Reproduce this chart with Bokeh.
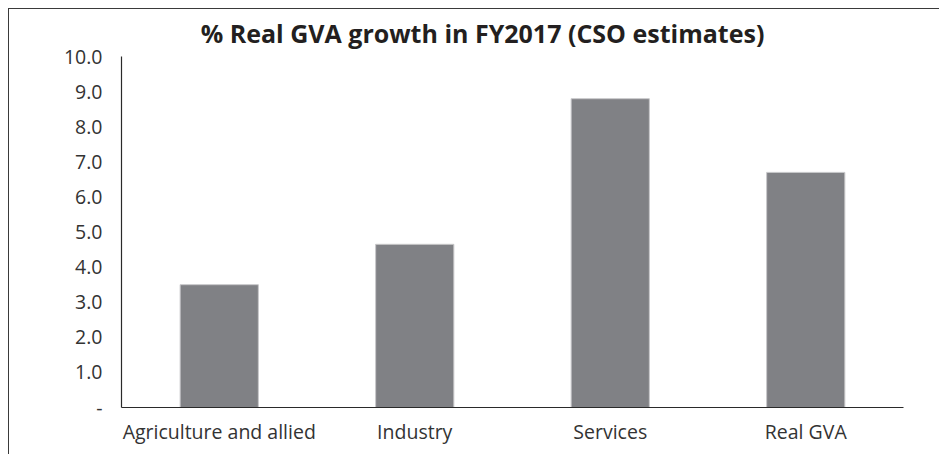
from bokeh.plotting import figure
from bokeh.models import Range1d, FactorRange, Label, NumeralTickFormatter, ColumnDataSource
from bokeh.embed import file_html
from bokeh.resources import INLINE

title_text = "% Real GVA growth in FY2017 (CSO estimates)"
categories = ["Agriculture and allied", "Industry", "Services", "Real GVA"]
growth = [3.5, 4.65, 8.8, 6.7]
y_ticks = [0, 1, 2, 3, 4, 5, 6, 7, 8, 9, 10]

FONT = "Open Sans"
TXT = "#333333"

src = ColumnDataSource(dict(cat=categories, val=growth))

p = figure(width=931, height=446, output_backend="svg", toolbar_location=None,
           x_range=FactorRange(*categories), y_range=Range1d(0, 11),
           min_border_left=112, min_border_right=37, min_border_top=12, min_border_bottom=48)
p.styles = {"margin-left": "8px", "margin-top": "8px",
            "border-top": "1px solid #3a3a3a", "border-left": "1px solid #3a3a3a"}
p.outline_line_color = None
p.xgrid.grid_line_color = None
p.ygrid.grid_line_color = None

p.vbar(x="cat", top="val", width=0.4, source=src, fill_color="#808185",
       line_color="#c8c8ca", line_width=1)

p.yaxis.ticker = y_ticks
p.yaxis.bounds = (0, 10)
p.yaxis.formatter = NumeralTickFormatter(format="0.0")
p.yaxis.major_label_overrides = {0: "-"}
for ax in (p.xaxis[0], p.yaxis[0]):
    ax.major_tick_line_color = None
    ax.minor_tick_line_color = None
    ax.major_tick_out = 0
    ax.major_tick_in = 0
    ax.axis_line_color = "#2a2a2a"
    ax.axis_line_width = 1.2
    ax.major_label_text_font = FONT
    ax.major_label_text_font_size = "19.5px"
    ax.major_label_text_color = TXT
p.yaxis.major_label_standoff = 19
p.xaxis.major_label_standoff = 10

p.add_layout(Label(x=361, y=10.66, x_units="screen", y_units="data", text=title_text,
                   text_font=FONT, text_font_style="bold", text_font_size="25px",
                   text_color="#231f20", text_align="center", text_baseline="middle"))

open("out.html", "w").write(file_html(p, INLINE))
